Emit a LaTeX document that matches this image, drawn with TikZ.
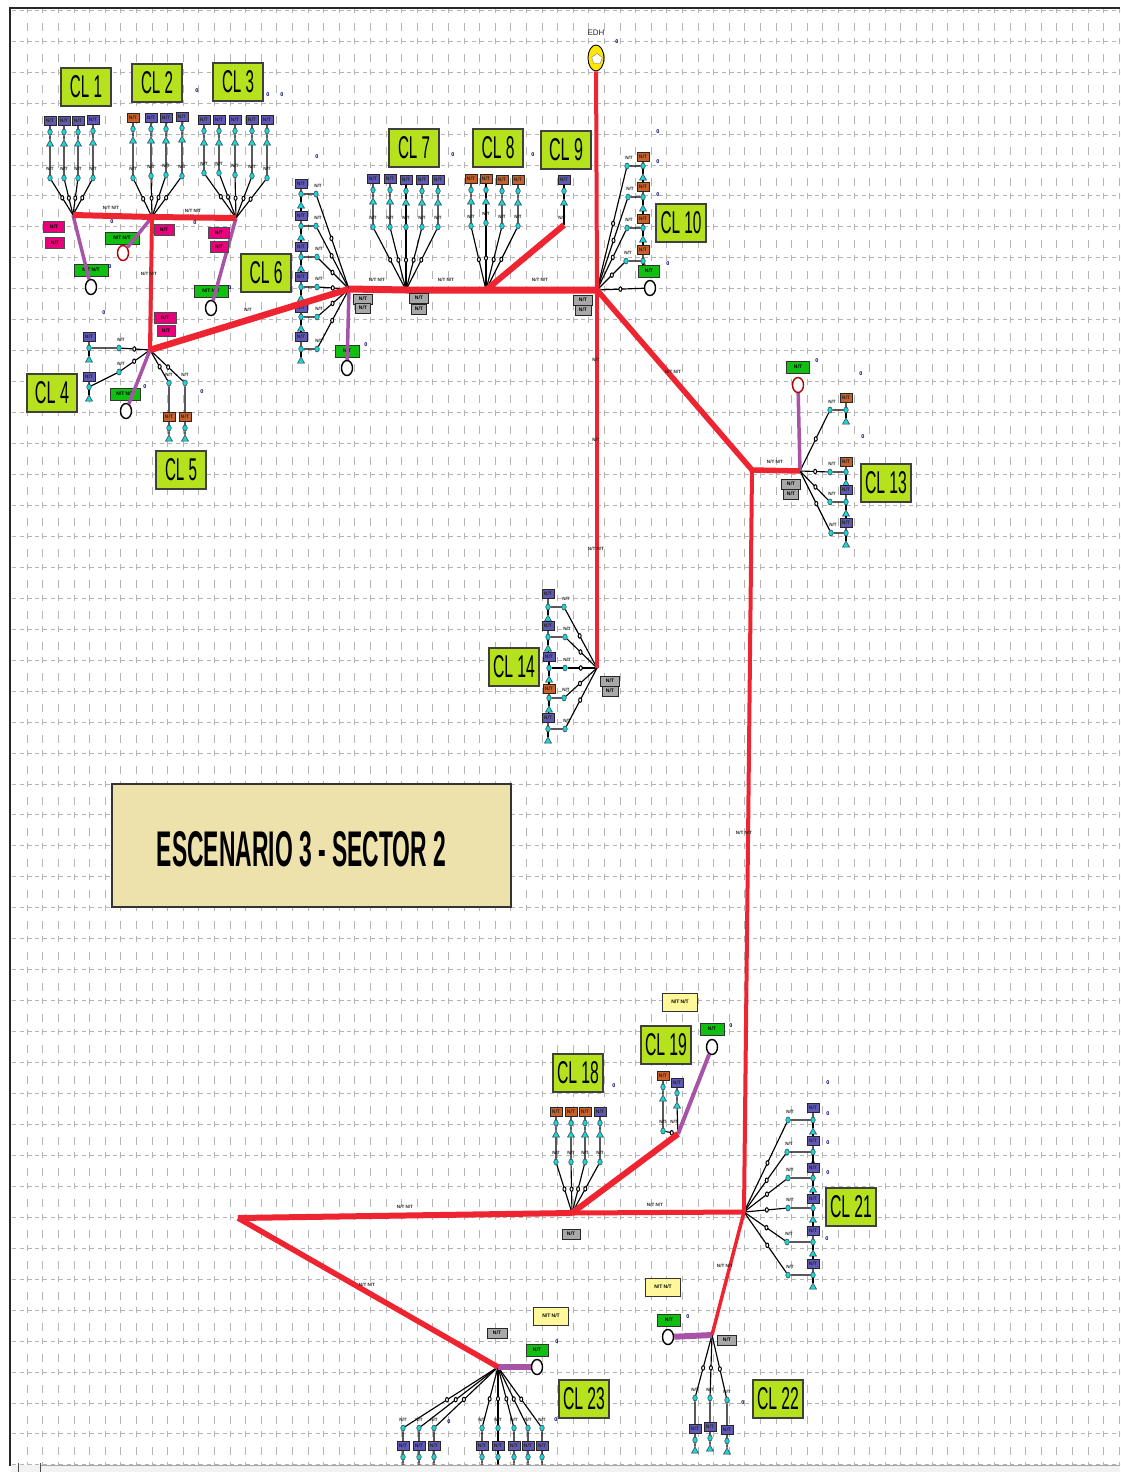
\documentclass[tikz,border=0pt]{standalone}
\usepackage{graphicx}
\usepackage{fontspec}
\setmainfont{Liberation Sans}
\usetikzlibrary{shapes.geometric}
\definecolor{gridc}{HTML}{B4B4B4}
\definecolor{limec}{HTML}{B5E21D}
\definecolor{redc}{HTML}{EE2430}
\definecolor{purc}{HTML}{A653A8}
\definecolor{cyanc}{HTML}{18D6DA}
\definecolor{blueb}{HTML}{5F58B4}
\definecolor{orab}{HTML}{C8602A}
\definecolor{pinkb}{HTML}{E8007C}
\definecolor{greenb}{HTML}{10C010}
\definecolor{greyb}{HTML}{A8A8A8}
\definecolor{yellb}{HTML}{FFF79A}
\definecolor{beige}{HTML}{EEE2AC}
\tikzset{
 tinyfont/.style={font=\fontsize{5}{5.5}\selectfont\bfseries},
 clbox/.style={draw=black!75,line width=1.3pt,fill=limec,minimum width=50pt,minimum height=38pt,inner sep=0pt},
 wire/.style={draw=black,line width=1.15pt},
 redl/.style={draw=redc,line width=#1},
 purl/.style={draw=purc,line width=#1},
 cy/.style={ellipse,draw=black!80,line width=.5pt,fill=cyanc,minimum width=4.5pt,minimum height=6pt,inner sep=0pt},
 tri/.style={isosceles triangle,isosceles triangle apex angle=60,shape border rotate=90,draw=black!80,line width=.5pt,fill=cyanc,minimum size=6pt,inner sep=0pt},
 mk/.style={ellipse,draw=black,line width=1pt,fill=white,minimum width=3pt,minimum height=4.5pt,inner sep=0pt},
 lab/.style={font=\fontsize{4.6}{5}\selectfont\bfseries,text=black!85,inner sep=0pt},
 ubox/.style={draw=black!85,line width=.9pt,fill=blueb,text=black!85,minimum width=12pt,minimum height=9.5pt,inner sep=0pt,tinyfont},
 obox/.style={ubox,fill=orab},
 pbox/.style={draw=black!70,line width=.7pt,fill=pinkb,text=black,minimum width=#1,minimum height=11.5pt,inner sep=0pt,tinyfont},
 gbox/.style={draw=black!80,line width=.7pt,fill=greenb,text=black,minimum width=#1,minimum height=12pt,inner sep=0pt,tinyfont},
 greybox/.style={draw=black!85,line width=1pt,fill=greyb,text=black,minimum width=#1,minimum height=10pt,inner sep=0pt,tinyfont},
 ybox/.style={draw=black!80,line width=1pt,fill=yellb,text=black,minimum width=35pt,minimum height=18pt,inner sep=0pt,tinyfont},
 gen/.style={ellipse,draw=black,line width=1.4pt,fill=white,minimum width=11pt,minimum height=15pt,inner sep=0pt},
 redgen/.style={gen,draw=red!70!black},
 strayt/.style={font=\fontsize{5.5}{6}\selectfont\bfseries,text=blue!45!black,inner sep=0pt}
}
\newcommand{\branchup}[6]{%
 \node[#6] (#1b) at (#3,#4) {N/T};
 \node[cy] (#1t) at (#3,#4+11) {};
 \node[tri] (#1a) at (#3,#4+23) {};
 \node[cy] (#1c) at (#3,#5) {};
 \node[lab] (#1l) at (#3,#5-9) {N/T};
 \draw[wire] (#2) -- node[mk,pos=.5]{} (#1c) -- (#1a) -- (#1t) -- (#1b);
}
\newcommand{\branchside}[8]{%
 \node[#8] (#1b) at (#5,#7) {N/T};
 \node[cy] (#1t) at (#5,#6) {};
 \node[tri] (#1a) at (#5,#6+12) {};
 \node[cy] (#1c) at (#3,#4) {};
 \node[lab] (#1l) at (#3+2,#4-8) {N/T};
 \draw[wire] (#2) -- node[mk,pos=.55]{} (#1c) -- (#1t) -- (#1b);
 \draw[wire] (#1t) -- (#1a);
}
\newcommand{\branchdown}[6]{%
 \node[#6] (#1b) at (#3,#5) {N/T};
 \node[cy] (#1t) at (#3,#5+11) {};
 \node[tri] (#1a) at (#3,#5+22) {};
 \node[cy] (#1c) at (#3,#4) {};
 \node[lab] (#1l) at (#3,#4-8) {N/T};
 \draw[wire] (#2) -- node[mk,pos=.55]{} (#1c) -- (#1b) -- (#1t) -- (#1a);
}
\newcommand{\clname}[5]{\node[clbox] (#1) at (#2,#3) {\resizebox{#5pt}{22pt}{#4}};}
\begin{document}
\begin{tikzpicture}[x=1pt,y=-1pt]
\useasboundingbox (0,0) rectangle (1120,1472);
\fill[white] (0,0) rectangle (1120,1472);
% grid
\begin{scope}
\clip (11,9) rectangle (1120,1465);
\foreach \k in {0,...,47}
  \draw[gridc,line width=1pt,dash pattern=on 4pt off 3.8pt] (12,10.25+30.95*\k) -- (1120,10.25+30.95*\k);
\foreach \k in {0,...,70}
  \draw[gridc,line width=1pt,dash pattern=on 8pt off 7pt on 6pt off 9.95pt] (27.3+15.6*\k,-7.75) -- (27.3+15.6*\k,1472);
\end{scope}
% frame
\draw[black!85,line width=2pt] (10,1466) -- (10,8) -- (1120,8);
% hubs
\coordinate (H1) at (73,215);
\coordinate (H2) at (152,217);
\coordinate (H3) at (236,218);
\coordinate (H4) at (150,350);
\coordinate (H6) at (349,289);
\coordinate (H7) at (406,290);
\coordinate (H8) at (486,290);
\coordinate (H9) at (564,225);
\coordinate (H10) at (597,290);
\coordinate (J) at (752,470);
\coordinate (H13) at (800,471);
\coordinate (H14) at (597,668);
\coordinate (H18) at (572,1213);
\coordinate (H19) at (678,1134);
\coordinate (H21) at (744,1212);
\coordinate (H22) at (712,1335);
\coordinate (H23) at (498,1367);
\coordinate (HW) at (238,1218);
% CL 1
\branchup{a1}{H1}{50}{121}{178}{ubox}
\branchup{a2}{H1}{64}{121}{178}{ubox}
\branchup{a3}{H1}{78}{121}{178}{ubox}
\branchup{a4}{H1}{93}{120}{178}{ubox}
% CL 2
\branchup{b1}{H2}{133}{118}{178}{obox}
\branchup{b2}{H2}{151}{118}{176}{ubox}
\branchup{b3}{H2}{166}{118}{175}{ubox}
\branchup{b4}{H2}{182}{117}{176}{ubox}
% CL 3
\branchup{c1}{H3}{204}{120}{173}{ubox}
\branchup{c2}{H3}{219}{120}{173}{ubox}
\branchup{c3}{H3}{235}{120}{175}{ubox}
\branchup{c4}{H3}{252}{120}{176}{ubox}
\branchup{c5}{H3}{267}{120}{178}{ubox}
% CL 6
\branchside{f1}{H6}{316}{194}{301}{194}{184}{ubox}
\branchside{f2}{H6}{316}{226}{301}{226}{216}{ubox}
\branchside{f3}{H6}{317}{257}{301}{257}{247}{ubox}
\branchside{f4}{H6}{317}{287}{301}{287}{277}{ubox}
\branchside{f5}{H6}{317}{317}{301}{317}{308}{ubox}
\branchside{f6}{H6}{317}{349}{301}{349}{337}{ubox}
\foreach \p/\q in {f1/f2,f2/f3,f3/f4,f4/f5,f5/f6} \draw[wire] (\p a) -- (\q b);
% CL 4
\branchside{d1}{H4}{119}{348}{89}{348}{337}{ubox}
\branchside{d2}{H4}{119}{372}{89}{387}{377}{ubox}
% CL 5
\branchdown{e1}{H4}{169}{383}{417}{obox}
\branchdown{e2}{H4}{185}{383}{417}{obox}
% CL 7
\branchup{g1}{H7}{373}{179}{227}{ubox}
\branchup{g2}{H7}{390}{179}{227}{ubox}
\branchup{g3}{H7}{406}{180}{227}{ubox}
\branchup{g4}{H7}{422}{180}{227}{ubox}
\branchup{g5}{H7}{438}{180}{227}{ubox}
% CL 8
\branchup{i1}{H8}{471}{179}{226}{obox}
\branchup{i2}{H8}{486}{179}{223}{obox}
\branchup{i3}{H8}{502}{180}{226}{obox}
\branchup{i4}{H8}{518}{180}{226}{obox}
% CL 9
\node[ubox] (k1b) at (564,180) {N/T};
\node[cy] (k1t) at (564,191) {};
\node[tri] (k1a) at (564,203) {};
\node[lab] (k1l) at (562,218) {N/T};
\draw[wire] (H9) -- (k1a) -- (k1t) -- (k1b);
% CL 10
\branchside{m1}{H10}{627}{166}{643}{166}{157}{obox}
\branchside{m2}{H10}{628}{197}{643}{197}{187}{obox}
\branchside{m3}{H10}{627}{228}{643}{228}{219}{obox}
\branchside{m4}{H10}{626}{261}{643}{261}{250}{obox}
\foreach \p/\q in {m1/m2,m2/m3,m3/m4} \draw[wire] (\p a) -- (\q b);
% CL 13
\branchside{n1}{H13}{830}{410}{846}{410}{398}{obox}
\branchside{n2}{H13}{830}{472}{846}{472}{462}{obox}
\branchside{n3}{H13}{830}{502}{846}{502}{490}{ubox}
\branchside{n4}{H13}{831}{533}{846}{533}{523}{ubox}
\foreach \p/\q in {n2/n3,n3/n4} \draw[wire] (\p a) -- (\q b);
% CL 14
\branchside{o1}{H14}{564}{607}{548}{607}{594}{ubox}
\branchside{o2}{H14}{565}{637}{548}{637}{626}{ubox}
\branchside{o3}{H14}{565}{668}{549}{668}{657}{ubox}
\branchside{o4}{H14}{564}{698}{549}{698}{689}{obox}
\branchside{o5}{H14}{565}{729}{548}{729}{718}{ubox}
\foreach \p/\q in {o1/o2,o2/o3,o3/o4,o4/o5} \draw[wire] (\p a) -- (\q b);
% CL 18
\branchup{q1}{H18}{556}{1112}{1162}{obox}
\branchup{q2}{H18}{571}{1112}{1162}{obox}
\branchup{q3}{H18}{585}{1112}{1162}{obox}
\branchup{q4}{H18}{600}{1112}{1162}{ubox}
% CL 19
\branchup{r1}{H19}{663}{1076}{1131}{obox}
\node[ubox] (r2b) at (677,1083) {N/T};
\node[cy] (r2t) at (677,1093) {};
\node[tri] (r2a) at (677,1106) {};
\node[lab] (r2l) at (674,1122) {N/T};
\draw[wire] (H19) -- (r2a) -- (r2t) -- (r2b);
% CL 21
\branchside{s1}{H21}{788}{1120}{813}{1120}{1108}{ubox}
\branchside{s2}{H21}{787}{1152}{813}{1152}{1141}{ubox}
\branchside{s3}{H21}{788}{1178}{813}{1178}{1168}{ubox}
\branchside{s4}{H21}{788}{1208}{813}{1208}{1199}{ubox}
\branchside{s5}{H21}{787}{1242}{813}{1242}{1231}{ubox}
\branchside{s6}{H21}{788}{1275}{813}{1275}{1264}{ubox}
\foreach \p/\q in {s1/s2,s2/s3,s3/s4,s4/s5,s5/s6} \draw[wire] (\p a) -- (\q b);
% CL 22
\branchdown{t1}{H22}{695}{1398}{1429}{ubox}
\branchdown{t2}{H22}{710}{1398}{1427}{ubox}
\branchdown{t3}{H22}{727}{1400}{1430}{ubox}
% CL 23
\branchdown{u1}{H23}{403}{1428}{1446}{ubox}
\branchdown{u2}{H23}{419}{1428}{1446}{ubox}
\branchdown{u3}{H23}{434}{1428}{1446}{ubox}
\branchdown{u4}{H23}{482}{1428}{1446}{ubox}
\branchdown{u5}{H23}{498}{1428}{1446}{ubox}
\branchdown{u6}{H23}{514}{1428}{1446}{ubox}
\branchdown{u7}{H23}{528}{1428}{1446}{ubox}
\branchdown{u8}{H23}{542}{1428}{1446}{ubox}
% scrollbar covers the cut tails
\fill[black!5] (11,1465) rectangle (1120,1472);
\draw[black!35,line width=.6pt] (40,1465) -- (1120,1465);
\draw[black!70,line width=.8pt] (18,1463) -- (18,1472);
\draw[black!70,line width=.8pt] (40,1463) -- (40,1472);
% generators
\node[gen] (G1) at (91,287) {};
\node[redgen] (G2) at (123,253) {};
\node[gen] (G3) at (211,308) {};
\node[gen] (G4) at (126,411) {};
\node[gen] (G6) at (347,368) {};
\node[gen] (G10) at (650,288) {};
\node[redgen] (G13) at (798,385) {};
\node[gen] (G19) at (712,1047) {};
\node[gen] (G22) at (668,1337) {};
\node[gen] (G23) at (537,1367) {};
\node[gbox=34pt] (L1) at (91,270) {N/T N/T};
\node[gbox=34pt] (L2) at (122,238) {N/T N/T};
\node[gbox=34pt] (L3) at (211,291) {N/T N/T};
\node[gbox=30pt] (L4) at (125,394) {N/T N/T};
\node[gbox=24pt] (L6) at (347,351) {N/T};
\node[gbox=21pt] (L10) at (649,271) {N/T};
\node[gbox=23pt] (L13) at (798,367) {N/T};
\node[gbox=24pt] (L19) at (712,1029) {N/T};
\node[gbox=23pt] (L22) at (669,1320) {N/T};
\node[gbox=22pt] (L23) at (537,1350) {N/T};
\draw[wire] (m4t) -- (L10);
% source
\node[ellipse,draw=black,line width=.9pt,fill=yellow!90!orange,minimum width=16pt,minimum height=26pt,inner sep=0pt] (EDH) at (596,58) {};
\node[regular polygon,regular polygon sides=5,fill=white,draw=black!60,line width=.3pt,minimum size=11pt,inner sep=0pt] (EDHi) at (597,59) {};
\node[font=\fontsize{8}{9}\selectfont,text=black!85,inner sep=0pt] (EDHl) at (596,33) {EDH};
% black feeder
\draw[wire] (H10) -- node[mk,pos=.5]{} (G10);
% purple
\draw[purl=3.5pt] (H1) -- (G1);
\draw[purl=3.5pt] (H2) -- (G2);
\draw[purl=3.5pt] (H3) -- (G3);
\draw[purl=3.5pt] (H4) -- (G4);
\draw[purl=3.5pt] (H6) -- (G6);
\draw[purl=3.5pt] (H13) -- (G13);
\draw[purl=4pt] (H19) -- (G19);
\draw[purl=6pt] (H22) -- (G22);
\draw[purl=6pt] (H23) -- (G23);
% red
\draw[redl=6pt] (H1) -- (H2);
\draw[redl=6pt] (H2) -- (H3);
\draw[redl=4pt] (H2) -- (H4);
\draw[redl=6.5pt] (H4) -- (H6);
\draw[redl=7pt] (H6) -- (H7) -- (H8) -- (H10);
\draw[redl=6pt] (H8) -- (H9);
\draw[redl=4pt] (EDH) -- (H10);
\draw[redl=4pt] (H10) -- (H14);
\draw[redl=5.5pt,line join=round] (H10) -- (J) -- (H13);
\draw[redl=4pt] (J) -- (H21);
\draw[redl=5pt] (H21) -- (H18);
\draw[redl=6pt] (H18) -- (HW);
\draw[redl=6pt] (H18) -- (H19);
\draw[redl=3.5pt] (H21) -- (H22);
\draw[redl=5.5pt] (HW) -- (H23);
% line labels
\foreach \n/\x/\y/\t in {a/111/208/{N/T N/T},b/193/211/{N/T N/T},c/149/274/{N/T N/T},d/248/310/{N/T},e/377/280/{N/T N/T},f/446/280/{N/T N/T},g/540/280/{N/T N/T},h/673/372/{N/T N/T},i/596/360/{N/T},j/596/440/{N/T},k/596/549/{N/T N/T},m/744/833/{N/T N/T},n/775/462/{N/T N/T},o/405/1207/{N/T N/T},p/655/1205/{N/T N/T},q/725/1266/{N/T N/T},r/367/1285/{N/T N/T}}
  \node[lab] (rl\n) at (\x,\y) {\t};
% pink
\node[pbox=21pt] (P1) at (54,227) {N/T};
\node[pbox=19pt] (P2) at (55,243) {N/T};
\node[pbox=20pt] (P3) at (164,230) {N/T};
\node[pbox=21pt] (P4) at (219,233) {N/T};
\node[pbox=18pt] (P5) at (219,247) {N/T};
\node[pbox=22pt] (P6) at (165,318) {N/T};
\node[pbox=18pt] (P7) at (166,331) {N/T};
% grey
\node[greybox=19pt] (Y1) at (363,299) {N/T};
\node[greybox=15pt] (Y2) at (363,308) {N/T};
\node[greybox=19pt] (Y3) at (419,298) {N/T};
\node[greybox=15pt] (Y4) at (419,309) {N/T};
\node[greybox=19pt] (Y5) at (583,300) {N/T};
\node[greybox=16pt] (Y6) at (583,310) {N/T};
\node[greybox=19pt] (Y7) at (791,484) {N/T};
\node[greybox=15pt] (Y8) at (791,494) {N/T};
\node[greybox=19pt] (Y9) at (610,681) {N/T};
\node[greybox=16pt] (Y10) at (610,691) {N/T};
\node[greybox=18pt] (Y11) at (571,1234) {N/T};
\node[greybox=20pt] (Y12) at (497,1333) {N/T};
\node[greybox=19pt] (Y13) at (727,1340) {N/T};
% yellow
\node[ybox] (W1) at (680,1002) {N/T N/T};
\node[ybox] (W2) at (663,1287) {N/T N/T};
\node[ybox] (W3) at (551,1316) {N/T N/T};
% stray marks
\foreach \x/\y in {197/91,268/95,282/95,317/157,112/222,195/223,230/288,104/313,145/387,202/392,110/267,617/42,453/155,533/155,658/132,658/162,658/195,668/264,366/345,817/361,861/374,863/437,731/1026,614/1086,828/1083,828/1114,828/1143,828/1173,827/1239,557/1342,688/1317,743/1403,449/1422,556/1420}
  \node[strayt] (z\x-\y) at (\x,\y) {0};
% CL labels
\clname{CL1}{86}{87}{CL 1}{32}
\clname{CL2}{157}{83}{CL 2}{32}
\clname{CL3}{238}{82}{CL 3}{32}
\clname{CL4}{52}{393}{CL 4}{34}
\clname{CL5}{181}{470}{CL 5}{32}
\clname{CL6}{266}{273}{CL 6}{33}
\clname{CL7}{414}{148}{CL 7}{32}
\clname{CL8}{498}{148}{CL 8}{33}
\clname{CL9}{566}{150}{CL 9}{34}
\clname{CL10}{681}{223}{CL 10}{41}
\clname{CL13}{886}{483}{CL 13}{42}
\clname{CL14}{514}{667}{CL 14}{42}
\clname{CL18}{578}{1073}{CL 18}{42}
\clname{CL19}{666}{1045}{CL 19}{42}
\clname{CL21}{851}{1207}{CL 21}{42}
\clname{CL22}{778}{1399}{CL 22}{42}
\clname{CL23}{584}{1399}{CL 23}{42}
% title
\node[draw=black!80,line width=1.2pt,fill=beige,minimum width=399pt,minimum height=123pt,inner sep=0pt] (title) at (311.5,845.5) {};
\node[inner sep=0pt] (titlet) at (301.5,849.5) {\resizebox{289pt}{35pt}{\bfseries ESCENARIO 3 - SECTOR 2}};
\end{tikzpicture}
\end{document}
